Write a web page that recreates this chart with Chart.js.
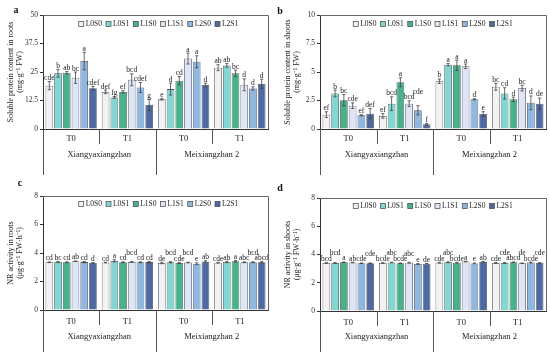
<!DOCTYPE html>
<html><head><meta charset="utf-8">
<script src="https://cdn.jsdelivr.net/npm/chart.js@4.4.1/dist/chart.umd.min.js"></script>
<style>
html,body{margin:0;padding:0;background:#fff;width:550px;height:354px;overflow:hidden}
.p{position:absolute;width:275px;height:177px}
</style></head><body>
<div class="p" style="left:0;top:0"><canvas id="ca" width="275" height="177"></canvas></div>
<div class="p" style="left:275px;top:0"><canvas id="cb" width="275" height="177"></canvas></div>
<div class="p" style="left:0;top:177px"><canvas id="cc" width="275" height="177"></canvas></div>
<div class="p" style="left:275px;top:177px"><canvas id="cd" width="275" height="177"></canvas></div>
<script>
// ---------- DATA ----------
const groups = ['T0', 'T1', 'T0', 'T1'];
const cultivars = ['Xiangyaxiangzhan', 'Meixiangzhan 2'];
const treatments = ['L0S0', 'L0S1', 'L1S0', 'L1S1', 'L2S0', 'L2S1'];

// (a) soluble protein in roots, mg/g FW  [one row per treatment, one value per group]
const rootProtein = [
  [19.0, 16.3, 13.0, 26.9],
  [24.4, 13.8, 17.5, 27.9],
  [24.7, 16.3, 21.2, 24.4],
  [22.5, 21.6, 30.9, 19.4],
  [29.8, 18.2, 29.5, 17.8],
  [17.9, 10.6, 19.3, 19.8]
];
const rootProteinErr = [
  [1.8, 0.8, 0.3, 1.3],
  [1.7, 0.4, 2.6, 0.8],
  [0.5, 0.5, 1.8, 1.4],
  [2.5, 2.6, 2.4, 2.6],
  [3.8, 2.2, 2.6, 0.7],
  [0.8, 2.4, 0.8, 2.0]
];
const rootProteinLetters = [
  ['cde', 'def', 'e', 'ab'],
  ['b', 'fg', 'd', 'ab'],
  ['ab', 'ef', 'cd', 'bc'],
  ['bc', 'bcd', 'a', 'd'],
  ['a', 'cdef', 'a', 'd'],
  ['cdef', 'g', 'd', 'd']
];

// (b) soluble protein in shoots, mg/g FW
const shootProtein = [
  [1.26, 1.15, 4.19, 3.70],
  [3.12, 2.22, 5.64, 3.12],
  [2.52, 4.10, 5.59, 2.60],
  [2.05, 2.22, 5.50, 3.59],
  [1.20, 1.64, 2.60, 2.30],
  [1.34, 0.41, 1.32, 2.22]
];
const shootProteinErr = [
  [0.25, 0.20, 0.20, 0.30],
  [0.30, 0.60, 0.10, 0.50],
  [0.50, 0.40, 0.45, 0.20],
  [0.25, 0.25, 0.20, 0.25],
  [0.05, 0.40, 0.05, 0.60],
  [0.45, 0.08, 0.20, 0.50]
];
const shootProteinLetters = [
  ['ef', 'ef', 'b', 'bc'],
  ['b', 'bcd', 'a', 'cd'],
  ['bc', 'a', 'a', 'd'],
  ['cde', 'bcd', 'a', 'bc'],
  ['ef', 'cde', 'd', 'd'],
  ['def', 'f', 'e', 'de']
];

// (c) NR activity in roots, ug/g FW/h
const rootNR = [
  [3.35, 3.33, 3.30, 3.32],
  [3.37, 3.45, 3.35, 3.37],
  [3.35, 3.35, 3.30, 3.42],
  [3.42, 3.37, 3.33, 3.35],
  [3.36, 3.35, 3.25, 3.35],
  [3.30, 3.36, 3.40, 3.35]
];
const rootNRErr = [
  [0.02, 0.02, 0.05, 0.03],
  [0.04, 0.08, 0.04, 0.05],
  [0.03, 0.03, 0.04, 0.06],
  [0.02, 0.03, 0.02, 0.03],
  [0.04, 0.03, 0.06, 0.03],
  [0.03, 0.05, 0.06, 0.04]
];
const rootNRLetters = [
  ['cd', 'cd', 'de', 'cde'],
  ['bc', 'a', 'bcd', 'ab'],
  ['cd', 'cd', 'cde', 'a'],
  ['ab', 'bcd', 'bcd', 'abc'],
  ['cd', 'cd', 'e', 'bcd'],
  ['d', 'cd', 'ab', 'abcd']
];

// (d) NR activity in shoots, ug/g FW/h
const shootNR = [
  [3.40, 3.40, 3.42, 3.40],
  [3.40, 3.43, 3.45, 3.40],
  [3.45, 3.38, 3.42, 3.45],
  [3.43, 3.42, 3.50, 3.38],
  [3.38, 3.33, 3.37, 3.43],
  [3.38, 3.35, 3.48, 3.40]
];
const shootNRErr = [
  [0.02, 0.02, 0.03, 0.03],
  [0.03, 0.02, 0.03, 0.03],
  [0.02, 0.02, 0.03, 0.02],
  [0.02, 0.03, 0.02, 0.02],
  [0.02, 0.02, 0.03, 0.03],
  [0.02, 0.02, 0.03, 0.02]
];
const shootNRLetters = [
  ['bcd', 'bcde', 'cde', 'cde'],
  ['bcd', 'abc', 'abc', 'cde'],
  ['a', 'bcde', 'bcde', 'abcd'],
  ['ab', 'abc', 'a', 'de'],
  ['cde', 'e', 'e', 'bcde'],
  ['cde', 'de', 'ab', 'cde']
];

// ---------- STYLE ----------
const FONT = "'Liberation Serif','Times New Roman',serif";
const colors = ['#f2f2f2', '#7fd8d4', '#45b48c', '#dfe5f7', '#8cb8e3', '#4d6aa6'];

const extras = {
  id: 'extras',
  afterDatasetsDraw(chart) {
    const ctx = chart.ctx, ys = chart.scales.y;
    ctx.save();
    ctx.strokeStyle = '#444';
    ctx.lineWidth = 0.8;
    ctx.font = `7.5px ${FONT}`;
    ctx.fillStyle = '#222';
    ctx.textAlign = 'center';
    ctx.textBaseline = 'alphabetic';
    const placed = [];
    const h = 5.2;
    const nG = chart.data.labels.length;
    for (let j = 0; j < nG; j++) {
      chart.data.datasets.forEach((ds, i) => {
        const bar = chart.getDatasetMeta(i).data[j];
        const v = ds.data[j], e = ds.errs[j];
        const yt = ys.getPixelForValue(v + e), yb = ys.getPixelForValue(v - e);
        const x = bar.x;
        ctx.beginPath();
        ctx.moveTo(x, yt); ctx.lineTo(x, yb);
        ctx.moveTo(x - 1.6, yt); ctx.lineTo(x + 1.6, yt);
        ctx.moveTo(x - 1.6, yb); ctx.lineTo(x + 1.6, yb);
        ctx.stroke();
        const txt = ds.letters[j];
        const w = ctx.measureText(txt).width;
        let base = Math.min(yt, bar.y) - 1.5, guard = 0;
        while (guard++ < 6) {
          const l = x - w / 2, r = x + w / 2, t = base - h, b = base;
          const hit = placed.find(p => l < p.r - 0.05 && r > p.l + 0.05 && t < p.b && b > p.t);
          if (!hit) break;
          base = hit.t - 0.6;
        }
        placed.push({ l: x - w / 2, r: x + w / 2, t: base - h, b: base });
        ctx.fillText(txt, x, base);
      });
    }
    ctx.restore();
  },
  afterDraw(chart) {
    const ctx = chart.ctx, xs = chart.scales.x, a = chart.chartArea;
    const o = chart.options.plugins.extras;
    ctx.save();
    // frame top/right
    ctx.strokeStyle = '#666';
    ctx.lineWidth = 1;
    ctx.beginPath();
    ctx.moveTo(a.left, a.top + 0.5); ctx.lineTo(a.right + 0.5, a.top + 0.5); ctx.lineTo(a.right + 0.5, a.bottom);
    ctx.stroke();
    // category separators
    const n = chart.data.labels.length;
    const cw = (xs.right - xs.left) / n;
    ctx.strokeStyle = '#555';
    ctx.beginPath();
    for (let k = 0; k < n; k++) {
      const bx = Math.round(xs.getPixelForValue(k) - cw / 2) + 0.5;
      const long = (k % 2 === 0);
      ctx.moveTo(bx, a.bottom);
      ctx.lineTo(bx, long ? chart.height - 2 : a.bottom + 15);
    }
    ctx.stroke();
    // group (T0/T1) labels and cultivar labels
    ctx.font = `8.5px ${FONT}`;
    ctx.fillStyle = '#222';
    ctx.textAlign = 'center';
    ctx.textBaseline = 'middle';
    chart.data.labels.forEach((g, k) => {
      ctx.fillText(g, xs.getPixelForValue(k), a.bottom + o.grpY);
    });
    cultivars.forEach((c, m) => {
      const cx = (xs.getPixelForValue(2 * m) + xs.getPixelForValue(2 * m + 1)) / 2;
      ctx.fillText(c, cx, a.bottom + o.cultY);
    });
    // legend
    ctx.font = `7.5px ${FONT}`;
    ctx.textAlign = 'left';
    const box = 5, gap = 2, sp = 4;
    const widths = chart.data.datasets.map(d => box + gap + ctx.measureText(d.label).width);
    const total = widths.reduce((s, w) => s + w, 0) + sp * (widths.length - 1);
    let lx = (a.left + a.right) / 2 - total / 2 + o.legDx;
    const ly = a.top + o.legDy;
    chart.data.datasets.forEach((d, i) => {
      ctx.fillStyle = d.backgroundColor;
      ctx.fillRect(lx, ly - box / 2, box, box);
      ctx.strokeStyle = '#444';
      ctx.lineWidth = 0.7;
      ctx.strokeRect(lx, ly - box / 2, box, box);
      ctx.fillStyle = '#222';
      ctx.fillText(d.label, lx + box + gap, ly + 0.5);
      lx += widths[i] + sp;
    });
    // panel letter
    ctx.font = `bold 10px ${FONT}`;
    ctx.fillStyle = '#111';
    ctx.textAlign = 'center';
    ctx.fillText(o.tag, o.tagX, o.tagY);
    ctx.restore();
  }
};

function makePanel(id, p) {
  const datasets = treatments.map((t, i) => ({
    label: t, data: p.mean[i], errs: p.err[i], letters: p.letters[i],
    backgroundColor: colors[i], borderColor: '#555', borderWidth: 0.8
  }));
  new Chart(document.getElementById(id), {
    type: 'bar',
    data: { labels: groups, datasets },
    options: {
      responsive: false, animation: false,
      layout: { padding: { top: p.top, right: p.right, left: 0, bottom: p.xh } },
      datasets: { bar: { categoryPercentage: 0.93, barPercentage: 0.88 } },
      plugins: {
        legend: { display: false }, tooltip: { enabled: false },
        extras: { tag: p.tag, tagX: p.tagX, tagY: p.tagY, grpY: p.grpY, cultY: p.cultY, legDx: p.legDx, legDy: p.legDy }
      },
      scales: {
        x: {
          grid: { display: false },
          border: { display: true, color: '#333', width: 1 },
          ticks: { display: false }
        },
        y: {
          min: 0, max: p.max,
          ticks: { stepSize: p.step, font: { family: FONT, size: 7.5 }, color: '#333', padding: 2 },
          grid: { drawOnChartArea: false, tickLength: 3, color: '#333' },
          border: { display: true, color: '#333', width: 1 },
          title: { display: true, text: p.title, color: '#222', font: { family: FONT, size: 8, lineHeight: 1.1 }, padding: { top: p.titlePad, bottom: 0 } },
          afterFit: s => { s.width = p.yw; }
        }
      }
    },
    plugins: [extras]
  });
}

makePanel('ca', { mean: rootProtein, err: rootProteinErr, letters: rootProteinLetters, max: 50, step: 12.5,
  title: ['Soluble protein content in roots', '(mg·g⁻¹ FW)'], top: 15, right: 7, yw: 43, xh: 40,
  tag: 'a', tagX: 16, tagY: 10, grpY: 10, cultY: 26, legDx: 3, legDy: 9, titlePad: 7 });
makePanel('cb', { mean: shootProtein, err: shootProteinErr, letters: shootProteinLetters, max: 10, step: 2.5,
  title: ['Soluble protein content in shoots', '(mg·g⁻¹ FW)'], top: 15, right: 4, yw: 45, xh: 40,
  tag: 'b', tagX: 5, tagY: 11, grpY: 10, cultY: 26, legDx: 0, legDy: 9, titlePad: 9 });
makePanel('cc', { mean: rootNR, err: rootNRErr, letters: rootNRLetters, max: 8, step: 2,
  title: ['NR activity in roots', '(μg·g⁻¹ FW·h⁻¹)'], top: 19, right: 7, yw: 43, xh: 36,
  tag: 'c', tagX: 20, tagY: 6, grpY: 12, cultY: 27, legDx: 3, legDy: 8, titlePad: 7 });
makePanel('cd', { mean: shootNR, err: shootNRErr, letters: shootNRLetters, max: 8, step: 2,
  title: ['NR activity in shoots', '(μg·g⁻¹ FW·h⁻¹)'], top: 21, right: 4, yw: 45, xh: 35,
  tag: 'd', tagX: 5, tagY: 11, grpY: 12, cultY: 26, legDx: 0, legDy: 8, titlePad: 9 });
</script>
</body></html>
